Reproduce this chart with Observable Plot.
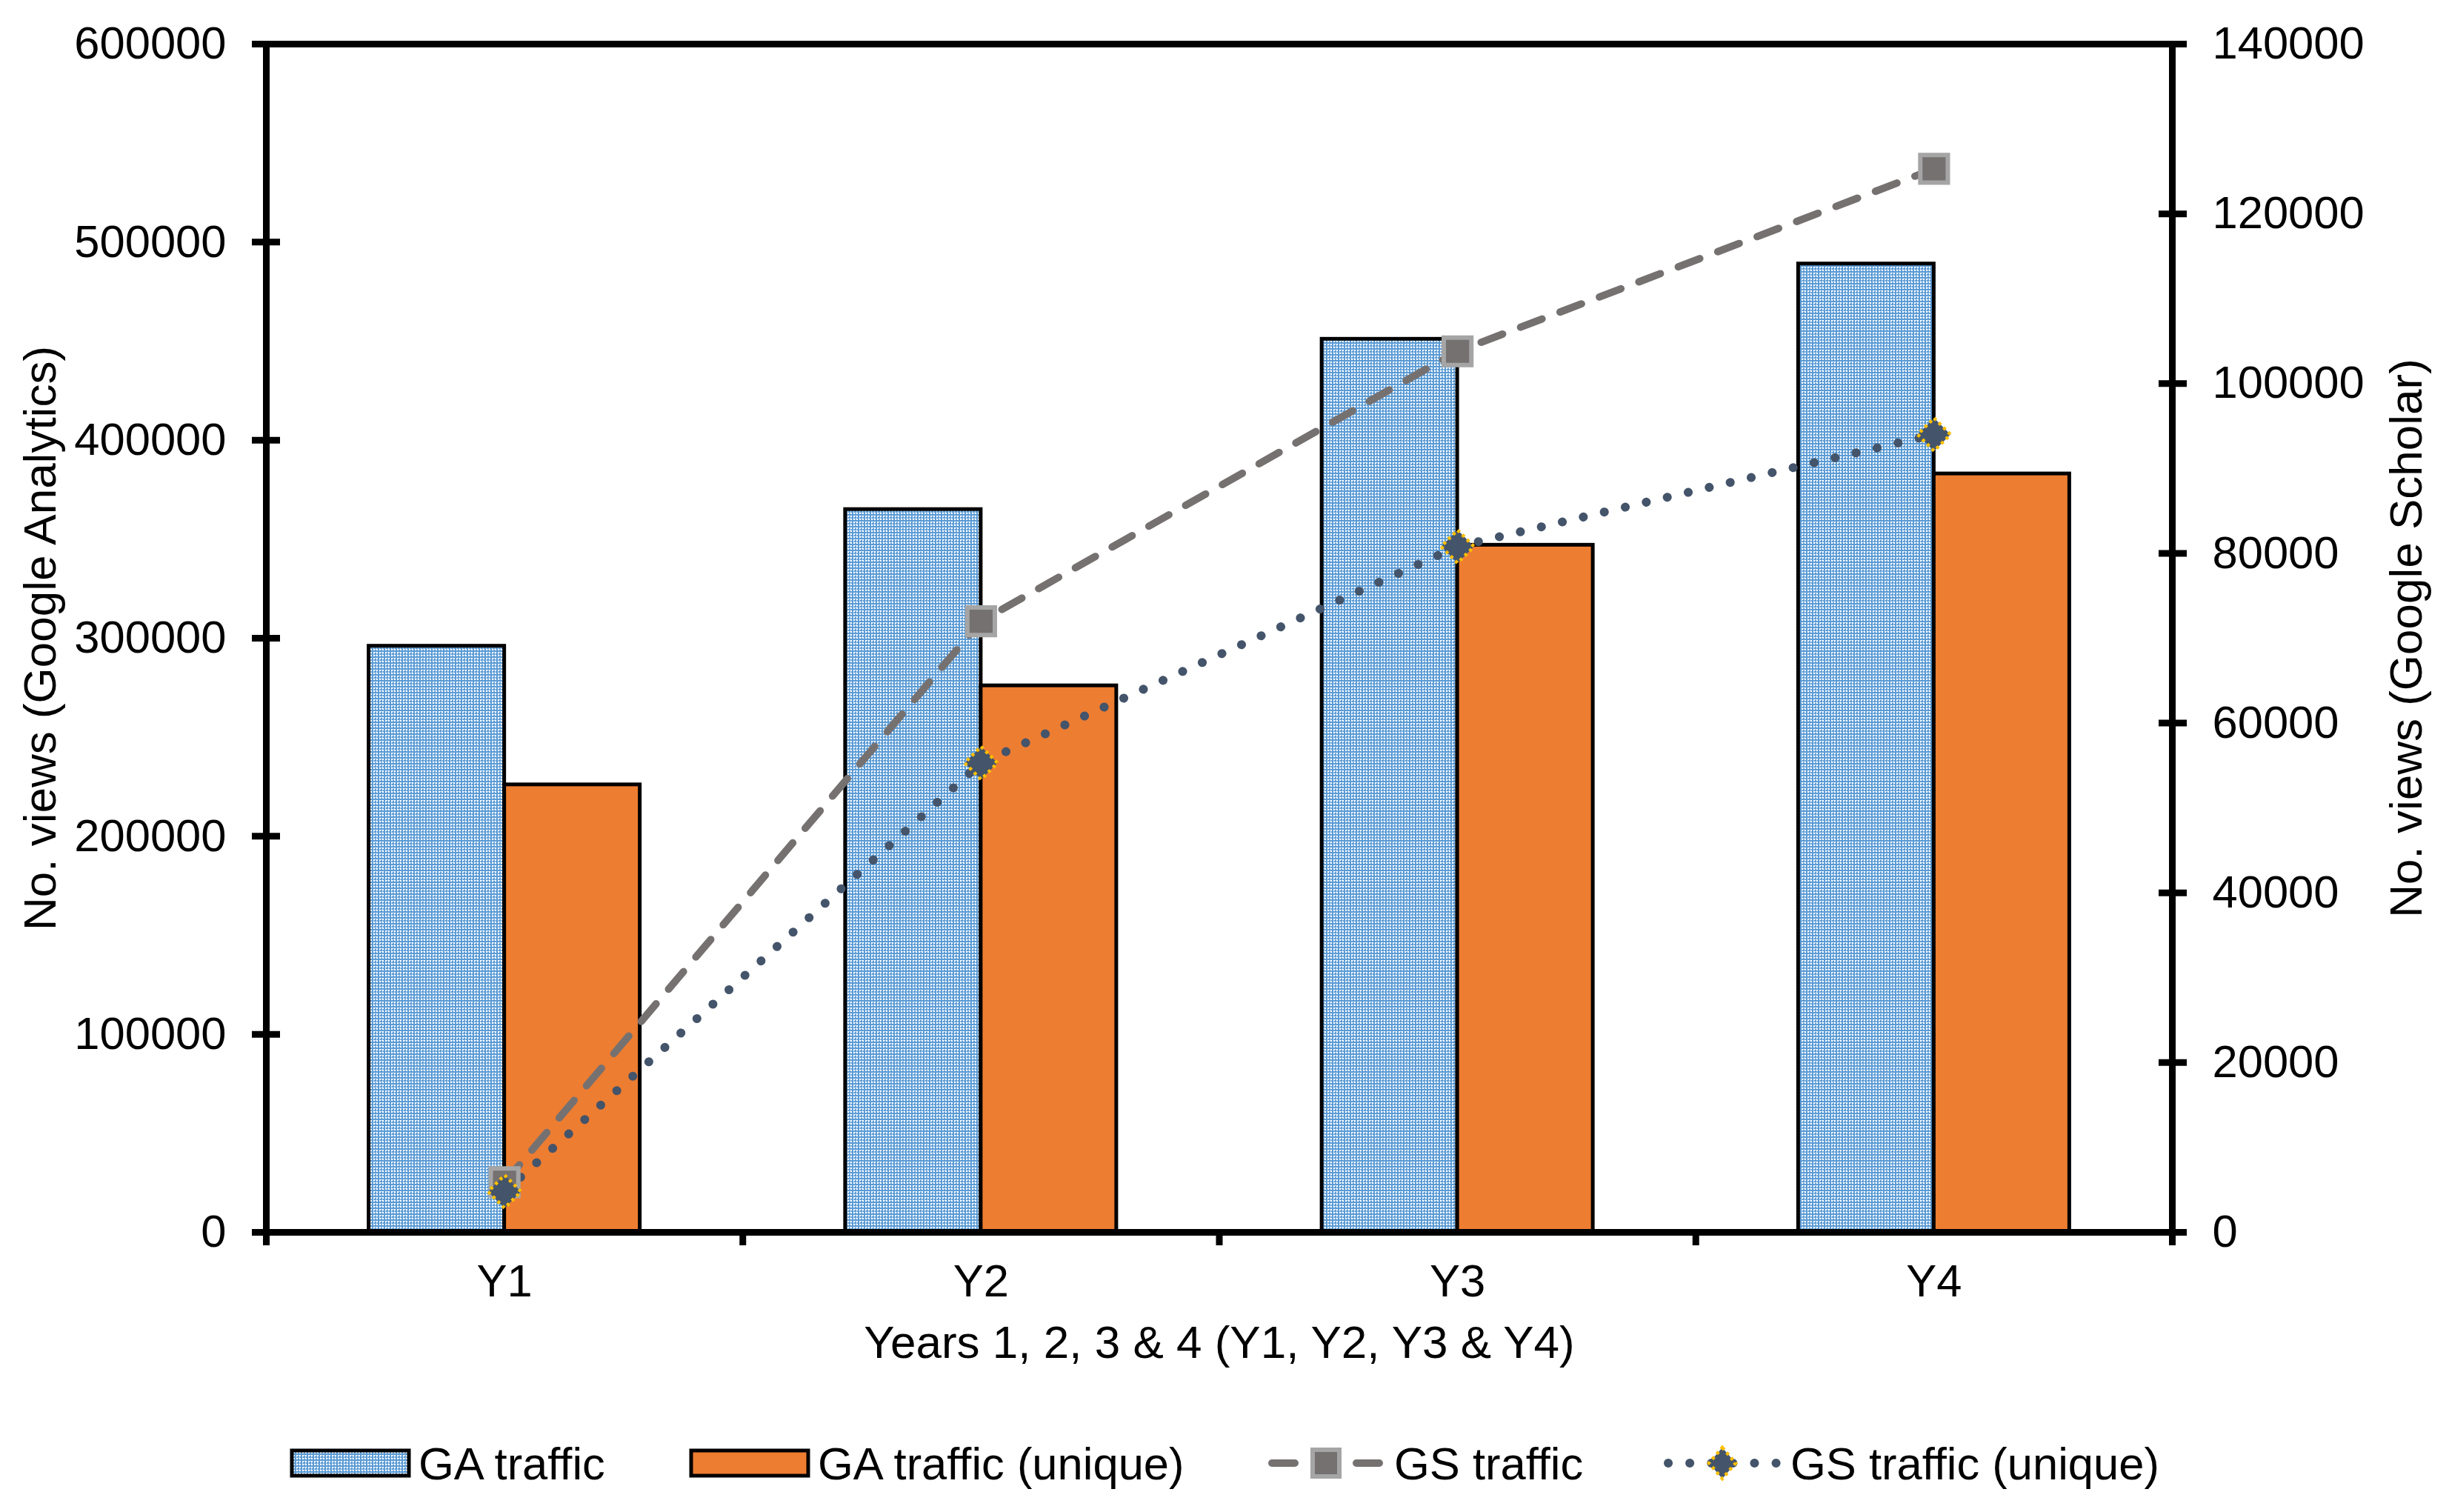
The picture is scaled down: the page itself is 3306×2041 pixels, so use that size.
<!DOCTYPE html>
<html>
<head>
<meta charset="utf-8">
<script src="https://cdn.jsdelivr.net/npm/d3@7"></script>
<script src="https://cdn.jsdelivr.net/npm/@observablehq/plot@0.6"></script>
<style>
  html, body { margin: 0; padding: 0; background: #fff; }
  body { width: 3306px; height: 2041px; overflow: hidden; font-family: "Liberation Sans", Arial, sans-serif; }
  #legend { display: block; }
</style>
</head>
<body>
<div id="chart"></div>
<svg id="legend" width="3306" height="141"></svg>
<script>
// ---- data ----
const years = ["Y1", "Y2", "Y3", "Y4"];
const gaTraffic = [296000, 365000, 451000, 489000];
const gaUnique = [226000, 276000, 347000, 383000];
const gsTraffic = [5900, 72000, 103800, 125300];
const gsUnique = [4800, 55300, 80800, 94000];
const leftTicks = [0, 100000, 200000, 300000, 400000, 500000, 600000];
const rightTicks = [0, 20000, 40000, 60000, 80000, 100000, 120000, 140000];
const seriesNames = ["GA traffic", "GA traffic (unique)", "GS traffic", "GS traffic (unique)"];
const xTitle = "Years 1, 2, 3 & 4 (Y1, Y2, Y3 & Y4)";
const yLeftTitle = "No. views (Google Analytics)";
const yRightTitle = "No. views (Google Scholar)";

// ---- styling constants ----
const leftMax = 600000, rightMax = 140000;
const k = leftMax / rightMax;        // maps right-axis values onto the left scale
const barW = 0.2845;                 // bar width as fraction of a category
const BLUE = "#5b9bd5", ORANGE = "#ed7d31", GREY = "#767171", GREY_EDGE = "#a5a5a5", NAVY = "#44546a", GOLD = "#ffc000";
const FONT = "Liberation Sans, Arial, sans-serif";
const AXW = 9;
const FS = 61.5, FT = 62;
const DASH = "31 26", DOTS = "0.1 29";

const rows = years.map((y, i) => ({
  year: y, i, ga: gaTraffic[i], gau: gaUnique[i], gs: gsTraffic[i], gsu: gsUnique[i]
}));

const chart = Plot.plot({
  width: 3306,
  height: 1900,
  marginLeft: 359,
  marginRight: 374,
  marginTop: 59,
  marginBottom: 237,
  style: { fontFamily: FONT, fontSize: FS + "px", color: "#000", background: "#fff" },
  x: { type: "linear", domain: [0, years.length], axis: null },
  y: { domain: [0, leftMax], axis: null },
  marks: [
    Plot.rectY(rows, { x1: d => d.i + 0.5 - barW, x2: d => d.i + 0.5, y1: 0, y2: "ga", fill: "url(#gaPattern)", stroke: "#000", strokeWidth: 5 }),
    Plot.rectY(rows, { x1: d => d.i + 0.5, x2: d => d.i + 0.5 + barW, y1: 0, y2: "gau", fill: ORANGE, stroke: "#000", strokeWidth: 5 }),
    Plot.line(rows, { x: d => d.i + 0.5, y: d => d.gs * k, stroke: GREY, strokeWidth: 10, strokeDasharray: DASH, strokeLinecap: "round" }),
    Plot.line(rows, { x: d => d.i + 0.5, y: d => d.gsu * k, stroke: NAVY, strokeWidth: 12, strokeDasharray: DOTS, strokeLinecap: "round" }),
    Plot.dot(rows, { x: d => d.i + 0.5, y: d => d.gs * k, symbol: "square", r: 21, fill: GREY, stroke: GREY_EDGE, strokeWidth: 6 }),
    Plot.dot(rows, { x: d => d.i + 0.5, y: d => d.gsu * k, symbol: "diamond2", r: 20, fill: NAVY, stroke: GOLD, strokeWidth: 4.5, strokeDasharray: "4 5" }),
    Plot.frame({ stroke: "#000", strokeWidth: AXW }),
    // left axis (ticks cross the axis line)
    Plot.axisY({ ticks: leftTicks, tickFormat: d3.format("d"), tickSize: 38, dx: 19, tickPadding: 35, fontSize: FS, strokeWidth: AXW, label: null }),
    // right axis (Google Scholar scale)
    Plot.axisY({ anchor: "right", ticks: rightTicks.map(v => v * k), tickFormat: v => d3.format("d")(Math.round(v / k)), tickSize: 38, dx: -19, tickPadding: 35, fontSize: FS, strokeWidth: AXW, label: null }),
    // category boundary ticks
    Plot.axisX({ ticks: d3.range(0, years.length + 1), tickFormat: () => "", tickSize: 18, strokeWidth: AXW, label: null }),
    // category labels
    Plot.axisX({ ticks: years.map((_, i) => i + 0.5), tickFormat: v => years[Math.floor(v)], tickSize: 0, tickPadding: 43, fontSize: FS, label: null }),
    // axis titles
    Plot.text([xTitle], { frameAnchor: "bottom", dy: 150, lineAnchor: "middle", textAnchor: "middle", fontSize: FT, fill: "#000" }),
    Plot.text([yLeftTitle], { frameAnchor: "left", dx: -304, rotate: -90, lineAnchor: "middle", textAnchor: "middle", fontSize: FT, fill: "#000" }),
    Plot.text([yRightTitle], { frameAnchor: "right", dx: 317, rotate: -90, lineAnchor: "middle", textAnchor: "middle", fontSize: FT, fill: "#000" })
  ]
});

d3.select(chart).insert("defs", ":first-child").html(`
  <pattern id="gaPattern" patternUnits="userSpaceOnUse" width="8" height="8">
    <rect width="8" height="8" fill="${BLUE}"/>
    <rect x="0" y="0" width="2" height="2" fill="#ffffff"/>
    <rect x="4" y="0" width="2" height="2" fill="#ffffff"/>
    <rect x="0" y="4" width="2" height="2" fill="#ffffff"/>
    <rect x="4" y="4" width="2" height="2" fill="#ffffff"/>
    <rect x="2" y="0" width="2" height="1" fill="#ffffff" opacity="0.6"/>
    <rect x="2" y="4" width="2" height="1" fill="#ffffff" opacity="0.6"/>
    <rect x="0" y="2" width="1" height="2" fill="#ffffff" opacity="0.6"/>
    <rect x="4" y="2" width="1" height="2" fill="#ffffff" opacity="0.6"/>
  </pattern>`);
document.getElementById("chart").appendChild(chart);

// ---- legend ----
const lg = d3.select("#legend");
const cy = 75;
const swW = 158;
const items = [
  { name: seriesNames[0], x0: 394, type: "patternBar" },
  { name: seriesNames[1], x0: 933, type: "bar" },
  { name: seriesNames[2], x0: 1711, type: "dash" },
  { name: seriesNames[3], x0: 2246, type: "dot" }
];
items.forEach(it => {
  const g = lg.append("g");
  const mx = it.x0 + swW / 2;
  if (it.type === "patternBar" || it.type === "bar") {
    g.append("rect").attr("x", it.x0).attr("y", cy - 17).attr("width", swW).attr("height", 34)
      .attr("fill", it.type === "bar" ? ORANGE : "url(#gaPattern)").attr("stroke", "#000").attr("stroke-width", 5);
  } else if (it.type === "dash") {
    g.append("line").attr("x1", it.x0 + 6).attr("x2", it.x0 + swW - 6).attr("y1", cy).attr("y2", cy)
      .attr("stroke", GREY).attr("stroke-width", 10).attr("stroke-dasharray", DASH).attr("stroke-linecap", "round");
    g.append("rect").attr("x", mx - 18).attr("y", cy - 18).attr("width", 36).attr("height", 36)
      .attr("fill", GREY).attr("stroke", GREY_EDGE).attr("stroke-width", 6);
  } else {
    g.append("line").attr("x1", it.x0 + 6).attr("x2", it.x0 + swW).attr("y1", cy).attr("y2", cy)
      .attr("stroke", NAVY).attr("stroke-width", 12).attr("stroke-dasharray", DOTS).attr("stroke-linecap", "round");
    g.append("path").attr("d", `M${mx},${cy - 21}L${mx + 18},${cy}L${mx},${cy + 21}L${mx - 18},${cy}Z`)
      .attr("fill", NAVY).attr("stroke", GOLD).attr("stroke-width", 4.5).attr("stroke-dasharray", "4 5");
  }
  g.append("text").attr("x", it.x0 + swW + 13).attr("y", cy).attr("dy", "0.35em")
    .attr("font-family", FONT).attr("font-size", FS).attr("fill", "#000").text(it.name);
});
</script>
</body>
</html>
